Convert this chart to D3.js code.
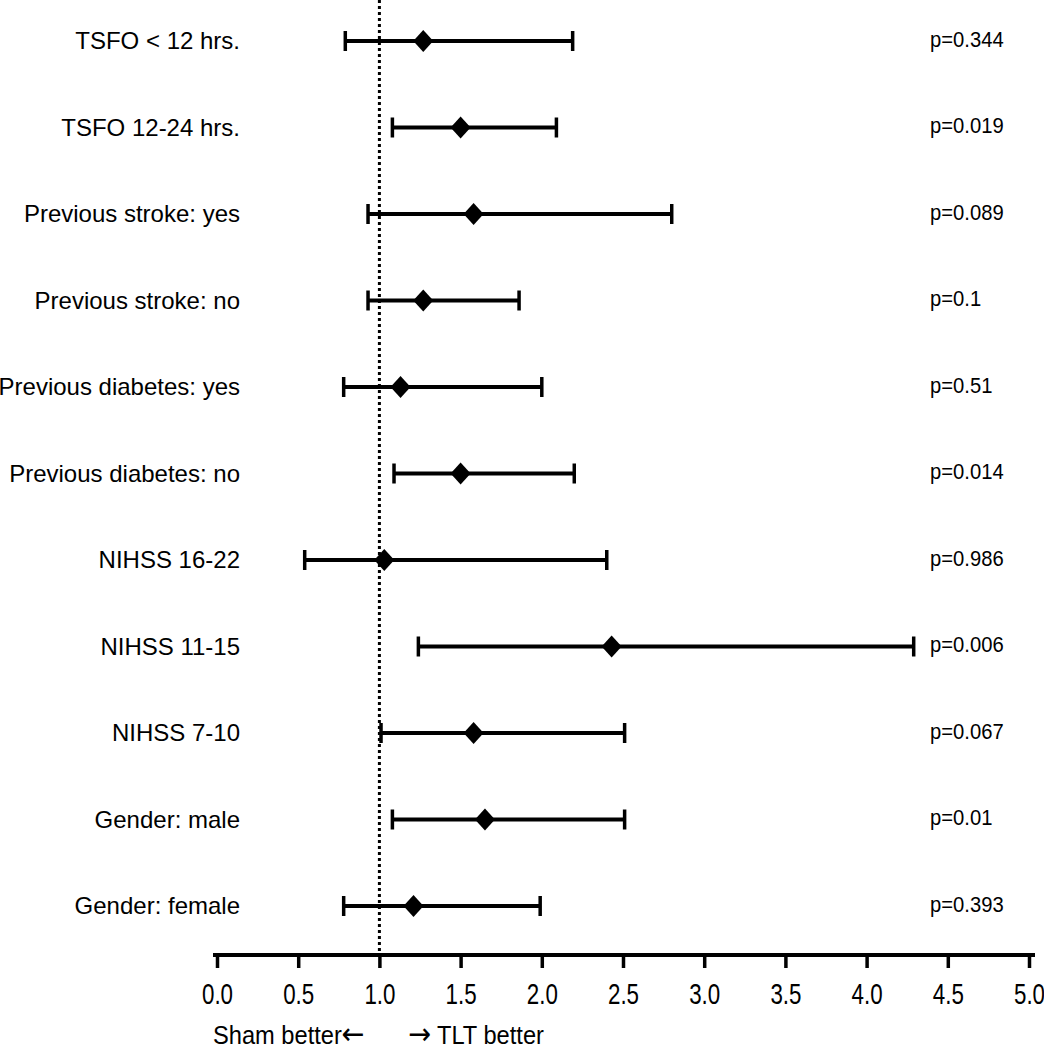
<!DOCTYPE html>
<html>
<head>
<meta charset="utf-8">
<script src="https://cdn.jsdelivr.net/npm/d3@7"></script>
<style>
  html, body { margin: 0; padding: 0; background: #fff; }
  svg { display: block; }
</style>
</head>
<body>
<svg id="chart" width="1044" height="1050"></svg>
<script>
// ---- data ----
const categories = [
  "TSFO < 12 hrs.",
  "TSFO 12-24 hrs.",
  "Previous stroke: yes",
  "Previous stroke: no",
  "Previous diabetes: yes",
  "Previous diabetes: no",
  "NIHSS 16-22",
  "NIHSS 11-15",
  "NIHSS 7-10",
  "Gender: male",
  "Gender: female"
];
const estimates = [1.27, 1.50, 1.58, 1.27, 1.13, 1.50, 1.03, 2.43, 1.58, 1.65, 1.21];
const lowerCI   = [0.79, 1.08, 0.93, 0.93, 0.78, 1.09, 0.54, 1.24, 1.01, 1.08, 0.78];
const upperCI   = [2.19, 2.09, 2.80, 1.86, 2.00, 2.20, 2.40, 4.29, 2.51, 2.51, 1.99];
const pValues   = ["p=0.344", "p=0.019", "p=0.089", "p=0.1", "p=0.51", "p=0.014",
                   "p=0.986", "p=0.006", "p=0.067", "p=0.01", "p=0.393"];
const xTicks    = [0, 0.5, 1, 1.5, 2, 2.5, 3, 3.5, 4, 4.5, 5];
const refValue  = 1.0;
const leftNote  = ["Sham better", "\u2190"];
const rightNote = ["\u2192", " TLT better"];

const rows = categories.map((c, i) => ({
  label: c, est: estimates[i], lo: lowerCI[i], hi: upperCI[i], p: pValues[i]
}));

// ---- layout ----
const svg = d3.select("#chart");
const x = d3.scaleLinear().domain([0, 5]).range([217, 1029]);
const y = d3.scalePoint().domain(categories).range([41, 906]);
const axisY = 955;
const regular = "'Liberation Sans', Arial, Helvetica, sans-serif";
const arrowFont = "'DejaVu Sans', sans-serif";

// reference dotted line
svg.append("line")
  .attr("x1", x(refValue)).attr("x2", x(refValue))
  .attr("y1", 0).attr("y2", axisY)
  .attr("stroke", "#000").attr("stroke-width", 3)
  .attr("stroke-dasharray", "3,3");

// axis
const axis = d3.axisBottom(x)
  .tickValues(xTicks)
  .tickFormat(d3.format(".1f"))
  .tickSize(13)
  .tickSizeOuter(0)
  .tickPadding(15);
const gAxis = svg.append("g")
  .attr("transform", `translate(0,${axisY})`)
  .call(axis);
gAxis.select(".domain")
  .attr("d", `M${x(0) - 4},0H${x(5) + 6}`)
  .attr("stroke", "#000").attr("stroke-width", 4);
gAxis.selectAll(".tick line").attr("stroke", "#000").attr("stroke-width", 3.5);
gAxis.selectAll(".tick text")
  .attr("fill", "#000")
  .attr("transform", "scale(0.77,1)")
  .style("font-family", regular)
  .style("font-size", "29px");

// whiskers
const g = svg.append("g");
g.selectAll("line.whisker").data(rows).join("line")
  .attr("class", "whisker")
  .attr("x1", d => x(d.lo)).attr("x2", d => x(d.hi))
  .attr("y1", d => y(d.label)).attr("y2", d => y(d.label))
  .attr("stroke", "#000").attr("stroke-width", 4);
// caps
["lo", "hi"].forEach(k => {
  g.selectAll("line.cap-" + k).data(rows).join("line")
    .attr("class", "cap-" + k)
    .attr("x1", d => x(d[k])).attr("x2", d => x(d[k]))
    .attr("y1", d => y(d.label) - 10).attr("y2", d => y(d.label) + 10)
    .attr("stroke", "#000").attr("stroke-width", 3.5);
});
// diamonds
g.selectAll("path.diamond").data(rows).join("path")
  .attr("class", "diamond")
  .attr("d", d => {
    const cx = x(d.est), cy = y(d.label);
    return `M${cx - 10},${cy}L${cx},${cy - 11}L${cx + 10},${cy}L${cx},${cy + 11}Z`;
  })
  .attr("fill", "#000");

// category labels
svg.selectAll("text.cat").data(rows).join("text")
  .attr("class", "cat")
  .attr("x", 240)
  .attr("y", d => y(d.label))
  .attr("dy", "0.35em")
  .attr("text-anchor", "end")
  .style("font-family", regular)
  .style("font-size", "24px")
  .text(d => d.label);

// p-values (slightly condensed)
svg.selectAll("text.pv").data(rows).join("text")
  .attr("class", "pv")
  .attr("transform", d => `translate(930,${y(d.label) - 2}) scale(0.92,1)`)
  .attr("dy", "0.35em")
  .attr("text-anchor", "start")
  .style("font-family", regular)
  .style("font-size", "22px")
  .text(d => d.p);

// bottom notes (condensed)
const noteL = svg.append("text")
  .attr("transform", "translate(213,1044) scale(0.91,1)")
  .style("font-family", regular).style("font-size", "26px");
noteL.append("tspan").text(leftNote[0]);
noteL.append("tspan").style("font-family", arrowFont).style("font-size", "30px").text(leftNote[1]);

const noteR = svg.append("text")
  .attr("transform", "translate(408,1044) scale(0.91,1)")
  .style("font-family", regular).style("font-size", "26px");
noteR.append("tspan").style("font-family", arrowFont).style("font-size", "30px").text(rightNote[0]);
noteR.append("tspan").text(rightNote[1]);
</script>
</body>
</html>
